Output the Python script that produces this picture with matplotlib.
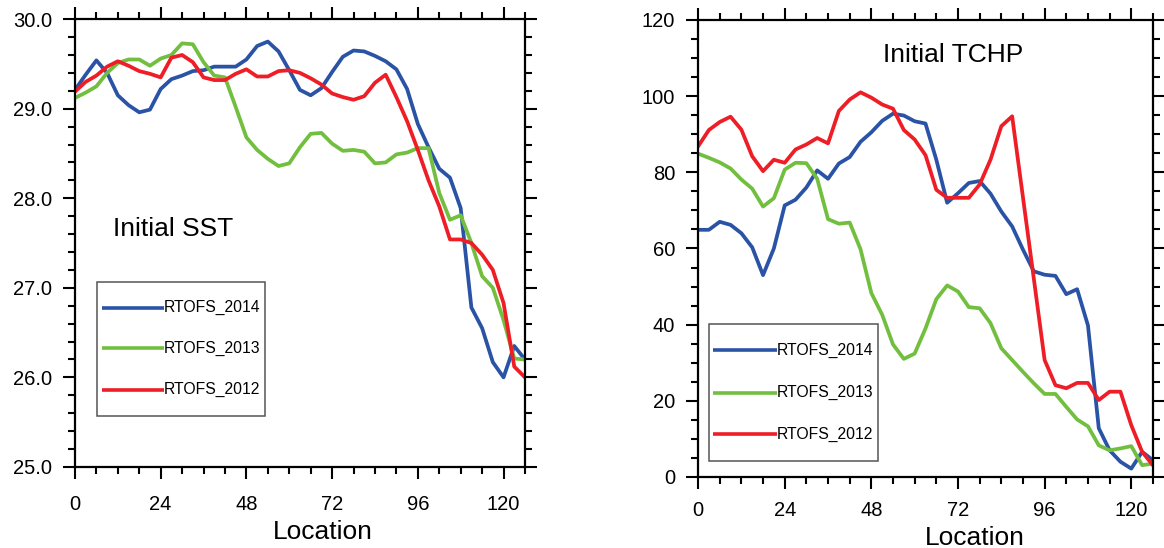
import numpy as np
import matplotlib
matplotlib.use("Agg")
import matplotlib.pyplot as plt
from matplotlib.patches import Rectangle

plt.rcParams['font.family'] = ['Liberation Sans', 'DejaVu Sans']

# locations along the track (every 3rd point)
location = np.arange(0, 127, 3)

# initial SST (deg C)
sst_2014 = [29.21, 29.38, 29.54, 29.40, 29.15, 29.04, 28.96, 28.99, 29.22, 29.33,
            29.37, 29.42, 29.43, 29.47, 29.47, 29.47, 29.55, 29.70, 29.75, 29.64,
            29.43, 29.21, 29.15, 29.23, 29.41, 29.58, 29.65, 29.64, 29.59, 29.53,
            29.44, 29.22, 28.83, 28.57, 28.33, 28.23, 27.89, 26.78, 26.55, 26.17,
            26.00, 26.35, 26.20]
sst_2013 = [29.12, 29.18, 29.25, 29.40, 29.51, 29.55, 29.55, 29.48, 29.56, 29.60,
            29.73, 29.72, 29.52, 29.37, 29.35, 29.02, 28.68, 28.54, 28.44, 28.36,
            28.39, 28.57, 28.72, 28.73, 28.61, 28.53, 28.54, 28.52, 28.39, 28.40,
            28.49, 28.51, 28.56, 28.56, 28.06, 27.76, 27.81, 27.50, 27.13, 27.00,
            26.64, 26.21, 26.20]
sst_2012 = [29.19, 29.30, 29.37, 29.47, 29.53, 29.48, 29.42, 29.39, 29.35, 29.57,
            29.60, 29.52, 29.35, 29.32, 29.32, 29.39, 29.44, 29.36, 29.36, 29.42,
            29.43, 29.40, 29.34, 29.27, 29.17, 29.13, 29.10, 29.14, 29.29, 29.38,
            29.13, 28.86, 28.54, 28.20, 27.91, 27.54, 27.54, 27.50, 27.37, 27.20,
            26.83, 26.12, 26.00]

# initial TCHP (kJ/cm2)
tchp_2014 = [64.9, 64.9, 67.0, 66.2, 64.0, 60.3, 53.0, 60.0, 71.3, 72.8,
             76.0, 80.5, 78.3, 82.3, 84.0, 88.0, 90.5, 93.5, 95.4, 94.9,
             93.4, 92.8, 83.3, 72.0, 74.5, 77.2, 77.7, 74.4, 69.7, 65.8,
             59.7, 54.0, 53.1, 52.8, 48.0, 49.3, 39.8, 12.8, 7.0, 4.0,
             2.2, 6.6, 4.4]
tchp_2013 = [84.9, 83.8, 82.6, 81.0, 78.1, 75.7, 71.0, 73.2, 80.7, 82.5,
             82.4, 78.3, 67.7, 66.5, 66.8, 59.8, 48.3, 42.6, 34.8, 31.0,
             32.4, 39.0, 46.7, 50.3, 48.7, 44.6, 44.3, 40.4, 33.8, 30.7,
             27.6, 24.6, 21.8, 21.8, 18.4, 15.1, 13.3, 8.3, 7.0, 7.5,
             8.1, 3.1, 3.5]
tchp_2012 = [86.8, 91.1, 93.2, 94.6, 91.2, 84.2, 80.3, 83.3, 82.5, 86.0,
             87.3, 89.0, 87.6, 96.1, 99.1, 101.0, 99.6, 97.8, 96.7, 91.1,
             88.6, 84.5, 75.4, 73.3, 73.3, 73.3, 76.8, 83.3, 92.1, 94.7,
             73.4, 52.1, 30.7, 24.1, 23.3, 24.7, 24.7, 20.2, 22.4, 22.4,
             13.6, 6.6, 3.1]

labels = ['RTOFS_2014', 'RTOFS_2013', 'RTOFS_2012']
colors = ['#2A53A6', '#72BF3F', '#EE1D26']


def style_axis(ax, yticks, yminor, yfmt, xpad, xlabel_x, xlabel_y):
    ax.set_xlim(0, 126)
    ax.set_xticks(np.arange(0, 121, 24))
    ax.set_xticks(np.arange(0, 127, 6), minor=True)
    ax.set_yticks(yticks)
    ax.set_yticks(yminor, minor=True)
    ax.set_yticklabels([yfmt.format(v) for v in yticks])
    ax.tick_params(which='both', direction='out', top=True, right=True,
                   width=1.5, labelsize=14.5)
    ax.tick_params(which='major', length=8.5)
    ax.tick_params(which='minor', length=5)
    ax.tick_params(axis='x', pad=xpad)
    ax.tick_params(axis='y', pad=8)
    for s in ax.spines.values():
        s.set_linewidth(1.6)
    ax.text(xlabel_x, xlabel_y, 'Location', transform=ax.transAxes,
            ha='center', va='center', fontsize=19)


def draw_legend(ax, box, line_x, rows):
    x0, y0, x1, y1 = box
    ax.add_patch(Rectangle((x0, y0), x1 - x0, y1 - y0, transform=ax.transAxes,
                           fill=False, edgecolor='#555555', linewidth=1.1,
                           zorder=5))
    for lab, col, yr in zip(labels, colors, rows):
        ax.plot(line_x, [yr, yr], color=col, lw=2.6, transform=ax.transAxes,
                solid_capstyle='butt', zorder=6)
        ax.text(line_x[1], yr, lab, transform=ax.transAxes, ha='left',
                va='center', fontsize=11.3, zorder=6)


fig = plt.figure(figsize=(11.64, 5.48), dpi=100)
fig.patch.set_facecolor('white')

ax1 = fig.add_axes([0.0644, 0.148, 0.3866, 0.817])
for vals, col in zip([sst_2014, sst_2013, sst_2012], colors):
    ax1.plot(location, vals, color=col, lw=2.7)
ax1.set_ylim(25.0, 30.0)
style_axis(ax1, np.arange(25.0, 30.01, 1.0), np.arange(25.0, 30.01, 0.2),
           '{:.1f}', 12, 0.551, -0.145)
ax1.text(0.084, 0.531, 'Initial SST', transform=ax1.transAxes,
         ha='left', va='center', fontsize=19)
draw_legend(ax1, (0.048, 0.114, 0.422, 0.414), [0.059, 0.198],
            [0.356, 0.265, 0.172])

ax2 = fig.add_axes([0.5997, 0.1296, 0.3908, 0.834])
for vals, col in zip([tchp_2014, tchp_2013, tchp_2012], colors):
    ax2.plot(location, vals, color=col, lw=2.7)
ax2.set_ylim(0, 120)
style_axis(ax2, np.arange(0, 121, 20), np.arange(0, 121, 5),
           '{:.0f}', 9, 0.609, -0.133)
ax2.text(0.407, 0.923, 'Initial TCHP', transform=ax2.transAxes,
         ha='left', va='center', fontsize=19)
draw_legend(ax2, (0.023, 0.035, 0.396, 0.334), [0.032, 0.173],
            [0.277, 0.184, 0.093])

fig.savefig('out.png', dpi=100)
